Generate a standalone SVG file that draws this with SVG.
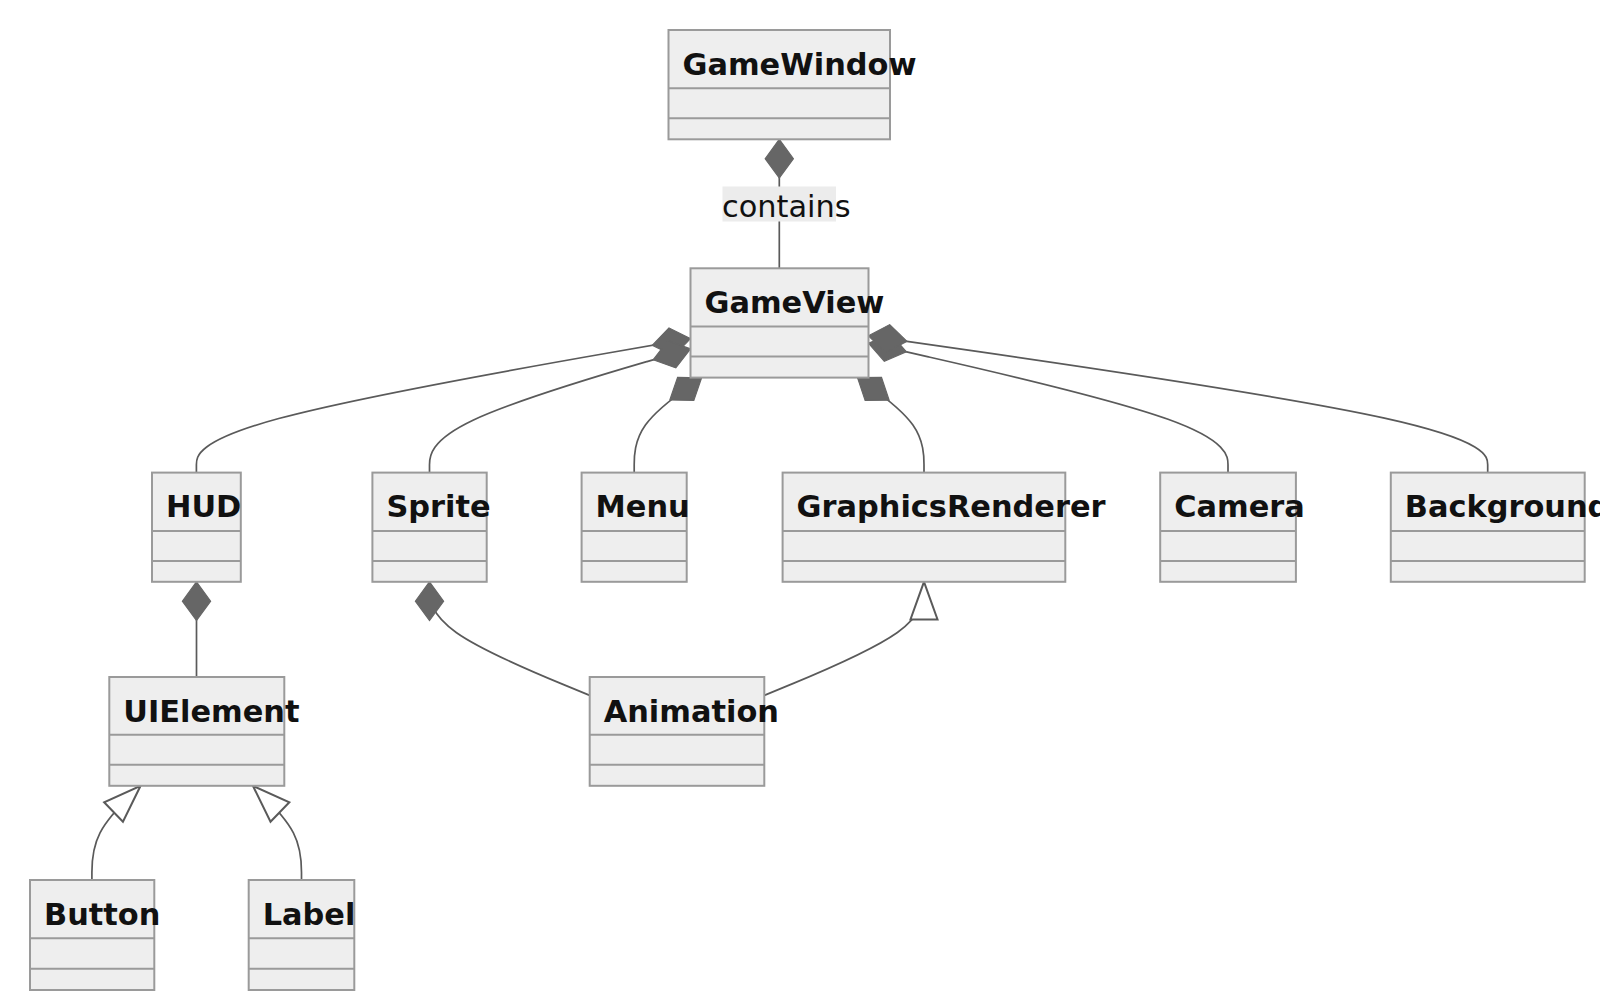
<svg xmlns="http://www.w3.org/2000/svg" width="1600" height="1005" viewBox="0 0 1600 1005">
<style>
.box{fill:#eeeeee;stroke:#9a9a9a;stroke-width:2}
.div{stroke:#9a9a9a;stroke-width:2}
.t{font-family:"DejaVu Sans",Verdana,sans-serif;font-weight:bold;font-size:30.4px;fill:#111111}
.lbl{font-family:"DejaVu Sans",Verdana,sans-serif;font-size:30.4px;fill:#111111}
.e{fill:none;stroke:#5a5a5a;stroke-width:1.7}
.comp{marker-start:url(#diamond)}
.ext{marker-start:url(#tri)}
</style>
<defs>
<marker id="diamond" markerUnits="userSpaceOnUse" markerWidth="40" markerHeight="30" refX="0" refY="12" orient="auto" viewBox="0 0 34 24" overflow="visible">
<polygon points="0,12 16.5,0 33,12 16.5,24" fill="#666666" stroke="#666666" stroke-width="1"/>
</marker>
<marker id="tri" markerUnits="userSpaceOnUse" markerWidth="40" markerHeight="30" refX="0" refY="12" orient="auto" viewBox="0 0 34 24" overflow="visible">
<polygon points="0,12 32,0.5 32,23.5" fill="#ffffff" stroke="#5a5a5a" stroke-width="1.7"/>
</marker>
</defs>
<rect width="1600" height="1005" fill="#ffffff"/>
<g id="connectors">
<path class="e comp" d="M779.3,139.3 L779.3,268.3"/>
<path class="e comp" d="M690.5,338.6 L608.15,353 C525.8,367.4 361.1,396.2 278.75,418.53 C196.4,440.87 196.4,456.73 196.4,464.67 L196.4,472.6"/>
<path class="e comp" d="M690.5,348.9 L647,361.58 C603.5,374.27 516.5,399.63 473,420.25 C429.5,440.87 429.5,456.73 429.5,464.67 L429.5,472.6"/>
<path class="e comp" d="M701.6,377.7 L690.37,385.58 C679.13,393.47 656.67,409.23 645.43,425.05 C634.2,440.87 634.2,456.73 634.2,464.67 L634.2,472.6"/>
<path class="e comp" d="M857.5,377.7 L868.58,385.58 C879.67,393.47 901.83,409.23 912.92,425.05 C924,440.87 924,456.73 924,464.67 L924,472.6"/>
<path class="e comp" d="M868.5,343.2 L928.42,356.83 C988.33,370.47 1108.17,397.73 1168.08,419.3 C1228,440.87 1228,456.73 1228,464.67 L1228,472.6"/>
<path class="e comp" d="M868.5,335.8 L971.7,350.67 C1074.9,365.53 1281.3,395.27 1384.5,418.07 C1487.7,440.87 1487.7,456.73 1487.7,464.67 L1487.7,472.6"/>
<path class="e comp" d="M196.5,581.8 L196.5,677"/>
<path class="e comp" d="M429.5,581.8 L429.5,589.73 C429.5,597.67 429.5,613.53 456.2,632.47 C482.9,651.4 536.3,673.4 563,684.4 L589.7,695.4"/>
<path class="e ext" d="M924,581.8 L924,589.73 C924,597.67 924,613.53 897.4,632.47 C870.77,651.4 817.53,673.4 790.92,684.4 L764.3,695.4"/>
<path class="e ext" d="M140.6,785.8 L132.48,793.65 C124.37,801.5 108.13,817.2 100.02,832.9 C91.9,848.6 91.9,864.3 91.9,872.15 L91.9,880"/>
<path class="e ext" d="M252.9,785.8 L261,793.65 C269.1,801.5 285.3,817.2 293.4,832.9 C301.5,848.6 301.5,864.3 301.5,872.15 L301.5,880"/>
<rect x="722.5" y="186.5" width="113.5" height="35" fill="#ececec"/>
<text class="lbl" x="722" y="216.7">contains</text>
</g>
<g id="GameWindow">
<rect class="box" x="668.5" y="30" width="221.5" height="109.3"/>
<line class="div" x1="668.5" y1="88.3" x2="890" y2="88.3"/>
<line class="div" x1="668.5" y1="118.3" x2="890" y2="118.3"/>
<text class="t" x="682.5" y="74.5">GameWindow</text>
</g>
<g id="GameView">
<rect class="box" x="690.5" y="268.3" width="178" height="109.3"/>
<line class="div" x1="690.5" y1="326.6" x2="868.5" y2="326.6"/>
<line class="div" x1="690.5" y1="356.6" x2="868.5" y2="356.6"/>
<text class="t" x="704.5" y="312.8">GameView</text>
</g>
<g id="HUD">
<rect class="box" x="152" y="472.6" width="88.8" height="109.2"/>
<line class="div" x1="152" y1="530.9" x2="240.8" y2="530.9"/>
<line class="div" x1="152" y1="560.9" x2="240.8" y2="560.9"/>
<text class="t" x="166" y="517.1">HUD</text>
</g>
<g id="Sprite">
<rect class="box" x="372.4" y="472.6" width="114.3" height="109.2"/>
<line class="div" x1="372.4" y1="530.9" x2="486.7" y2="530.9"/>
<line class="div" x1="372.4" y1="560.9" x2="486.7" y2="560.9"/>
<text class="t" x="386.4" y="517.1">Sprite</text>
</g>
<g id="Menu">
<rect class="box" x="581.6" y="472.6" width="105.1" height="109.2"/>
<line class="div" x1="581.6" y1="530.9" x2="686.7" y2="530.9"/>
<line class="div" x1="581.6" y1="560.9" x2="686.7" y2="560.9"/>
<text class="t" x="595.6" y="517.1">Menu</text>
</g>
<g id="GraphicsRenderer">
<rect class="box" x="782.6" y="472.6" width="282.7" height="109.2"/>
<line class="div" x1="782.6" y1="530.9" x2="1065.3" y2="530.9"/>
<line class="div" x1="782.6" y1="560.9" x2="1065.3" y2="560.9"/>
<text class="t" x="796.6" y="517.1">GraphicsRenderer</text>
</g>
<g id="Camera">
<rect class="box" x="1160.2" y="472.6" width="135.7" height="109.2"/>
<line class="div" x1="1160.2" y1="530.9" x2="1295.9" y2="530.9"/>
<line class="div" x1="1160.2" y1="560.9" x2="1295.9" y2="560.9"/>
<text class="t" x="1174.2" y="517.1">Camera</text>
</g>
<g id="Background">
<rect class="box" x="1390.8" y="472.6" width="193.9" height="109.2"/>
<line class="div" x1="1390.8" y1="530.9" x2="1584.7" y2="530.9"/>
<line class="div" x1="1390.8" y1="560.9" x2="1584.7" y2="560.9"/>
<text class="t" x="1404.8" y="517.1">Background</text>
</g>
<g id="UIElement">
<rect class="box" x="109.3" y="677" width="175" height="108.8"/>
<line class="div" x1="109.3" y1="734.8" x2="284.3" y2="734.8"/>
<line class="div" x1="109.3" y1="764.8" x2="284.3" y2="764.8"/>
<text class="t" x="123.3" y="721.5">UIElement</text>
</g>
<g id="Animation">
<rect class="box" x="589.7" y="677" width="174.6" height="108.8"/>
<line class="div" x1="589.7" y1="734.8" x2="764.3" y2="734.8"/>
<line class="div" x1="589.7" y1="764.8" x2="764.3" y2="764.8"/>
<text class="t" x="603.7" y="721.5">Animation</text>
</g>
<g id="Button">
<rect class="box" x="30" y="880" width="124.3" height="110"/>
<line class="div" x1="30" y1="938.3" x2="154.3" y2="938.3"/>
<line class="div" x1="30" y1="968.8" x2="154.3" y2="968.8"/>
<text class="t" x="44" y="924.5">Button</text>
</g>
<g id="Label">
<rect class="box" x="248.7" y="880" width="105.6" height="110"/>
<line class="div" x1="248.7" y1="938.3" x2="354.3" y2="938.3"/>
<line class="div" x1="248.7" y1="968.8" x2="354.3" y2="968.8"/>
<text class="t" x="262.7" y="924.5">Label</text>
</g>
</svg>
